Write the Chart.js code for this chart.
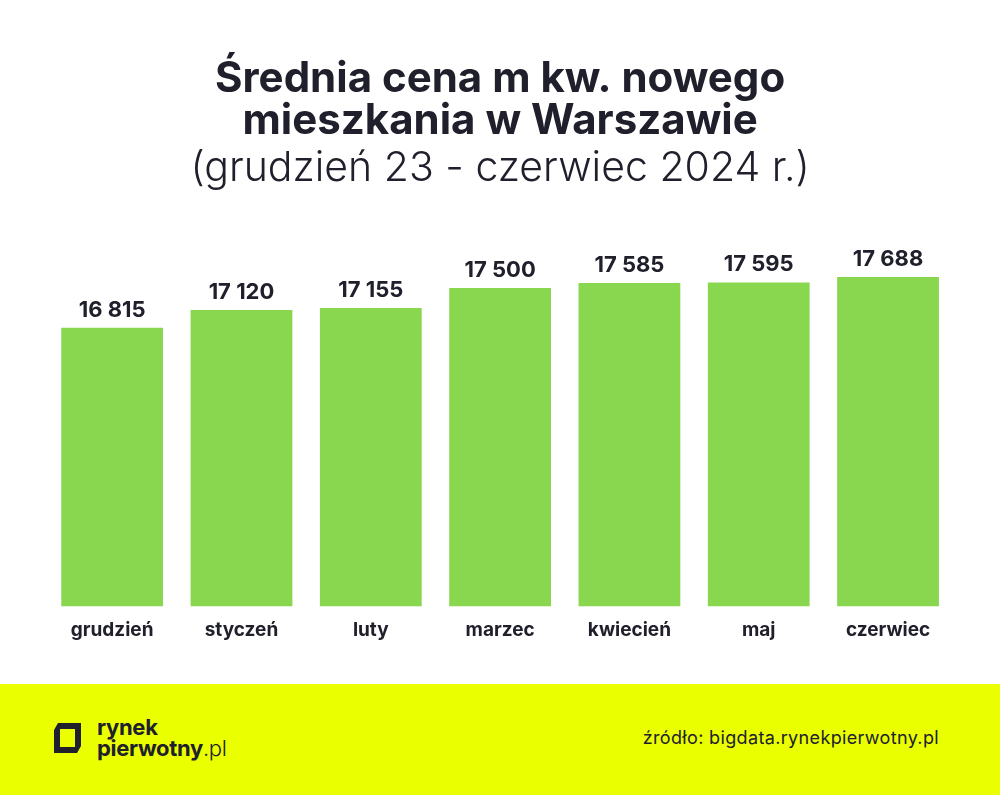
<!DOCTYPE html>
<html>
<head>
<meta charset="utf-8">
<script src="https://cdn.jsdelivr.net/npm/chart.js@4.4.1/dist/chart.umd.min.js"></script>
<style>
  html, body { margin: 0; padding: 0; background: #fff; }
  body { width: 1000px; height: 795px; overflow: hidden; font-family: Inter, sans-serif; }
  #wrap { width: 1000px; height: 684px; position: relative; }
  #footer { width: 1000px; height: 111px; background: #eaff00; position: relative; color: #20202c; }
  #logo { position: absolute; left: 52px; top: 37px; }
  #brand { position: absolute; left: 97px; top: 33px; font-size: 22px; line-height: 21px; font-weight: 700; letter-spacing: -0.3px; }
  #brand .pl { font-weight: 300; }
  #source { position: absolute; right: 61px; top: 43px; font-size: 18px; font-weight: 400; letter-spacing: 0.35px; }
</style>
</head>
<body>
<div id="wrap"><canvas id="myChart" width="1000" height="684"></canvas></div>
<div id="footer">
  <svg id="logo" width="31" height="34" viewBox="0 0 31 34">
    <path d="M6 2 H29 V25 L25 32 H2 V9 Z M8 8 V26 H23 V8 Z" fill="#20202c" fill-rule="evenodd"/>
  </svg>
  <div id="brand">rynek<br>pierwotny<span class="pl">.pl</span></div>
  <div id="source">źródło: bigdata.rynekpierwotny.pl</div>
</div>
<script>
// dane: średnia cena m kw. (zł)
const months = ['grudzień', 'styczeń', 'luty', 'marzec', 'kwiecień', 'maj', 'czerwiec'];
const prices = [16815, 17120, 17155, 17500, 17585, 17595, 17688];
const titleLines = ['Średnia cena m kw. nowego', 'mieszkania w Warszawie'];
const subtitleText = '(grudzień 23 - czerwiec 2024 r.)';

const dark = '#20202c';
const green = '#89d64f';

function fmt(v) {
  return v.toString().replace(/\B(?=(\d{3})+(?!\d))/g, ' ');
}

// etykiety z wartościami nad słupkami
const valueLabels = {
  id: 'valueLabels',
  afterDatasetsDraw(chart) {
    const ctx = chart.ctx;
    const meta = chart.getDatasetMeta(0);
    ctx.save();
    ctx.font = '700 22px Inter';
    ctx.fillStyle = dark;
    ctx.textAlign = 'center';
    ctx.textBaseline = 'alphabetic';
    meta.data.forEach((bar, i) => {
      ctx.fillText(fmt(prices[i]), bar.x, bar.y - 11);
    });
    ctx.restore();
  }
};

var ctx = document.getElementById('myChart').getContext('2d');
var myChart = new Chart(ctx, {
  type: 'bar',
  data: {
    labels: months,
    datasets: [{
      data: prices,
      backgroundColor: green,
      borderWidth: 0,
      categoryPercentage: 1,
      barPercentage: 0.787
    }]
  },
  options: {
    responsive: false,
    animation: false,
    layout: { padding: { left: 47.5, right: 47.3, top: 0, bottom: 29 } },
    plugins: {
      legend: { display: false },
      tooltip: { enabled: false },
      title: {
        display: true,
        text: titleLines,
        color: dark,
        font: { family: 'Inter', size: 42, weight: '700', lineHeight: 1.0 },
        padding: { top: 58, bottom: 0 }
      },
      subtitle: {
        display: true,
        text: subtitleText,
        color: dark,
        font: { family: 'Inter', size: 41, weight: '300', lineHeight: 1.2 },
        padding: { top: 2, bottom: 34 }
      }
    },
    scales: {
      x: {
        grid: { display: false, drawTicks: false },
        border: { display: false },
        ticks: { color: dark, padding: 13, font: { family: 'Inter', size: 19, weight: '700' } }
      },
      y: {
        display: false,
        min: 12021,
        max: 18545
      }
    }
  },
  plugins: [valueLabels]
});
</script>
</body>
</html>
